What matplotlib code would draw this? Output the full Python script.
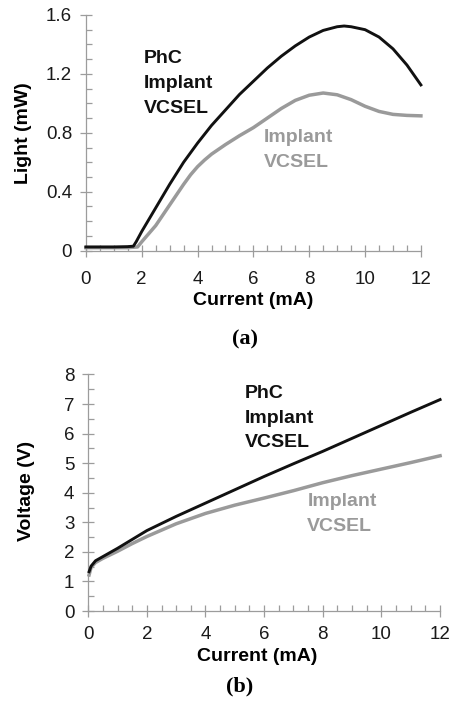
import matplotlib
matplotlib.use('Agg')
import matplotlib.pyplot as plt
from matplotlib.ticker import MultipleLocator

plt.rcParams['font.family'] = ['Liberation Sans', 'DejaVu Sans']

# ---- (a) light output vs current ----
cur_li_phc = [0, 0.5, 1.0, 1.5, 1.7, 1.8, 2.0, 2.5, 3.0, 3.5, 4.0, 4.5, 5.0, 5.5, 6.0,
              6.5, 7.0, 7.5, 8.0, 8.5, 9.0, 9.25, 9.5, 10.0, 10.5, 11.0, 11.5, 12.0]
light_phc = [0.025, 0.025, 0.025, 0.027, 0.03, 0.06, 0.13, 0.29, 0.45, 0.60, 0.73, 0.85, 0.955, 1.06, 1.15,
             1.24, 1.32, 1.39, 1.45, 1.495, 1.52, 1.525, 1.52, 1.50, 1.45, 1.37, 1.26, 1.125]

cur_li_imp = [0, 1.0, 1.5, 1.85, 2.0, 2.5, 3.0, 3.5, 3.75, 4.0, 4.25, 4.5, 5.0, 5.5, 6.0, 6.5, 7.0,
              7.5, 8.0, 8.5, 9.0, 9.5, 10.0, 10.5, 11.0, 11.5, 12.0]
light_imp = [0.02, 0.02, 0.02, 0.025, 0.06, 0.17, 0.31, 0.45, 0.515, 0.57, 0.615, 0.655, 0.72, 0.78, 0.835, 0.90, 0.965,
             1.02, 1.055, 1.07, 1.058, 1.025, 0.98, 0.945, 0.925, 0.918, 0.915]

# ---- (b) voltage vs current ----
cur_iv = [0.03, 0.1, 0.25, 0.5, 1.0, 1.5, 2.0, 3.0, 4.0, 5.0, 6.0, 7.0, 8.0, 9.0, 10.0, 11.0, 12.0]
volt_phc = [1.33, 1.52, 1.70, 1.84, 2.12, 2.42, 2.72, 3.20, 3.65, 4.10, 4.55, 4.98, 5.40, 5.84, 6.28, 6.72, 7.15]
volt_imp = [1.22, 1.48, 1.64, 1.78, 2.02, 2.28, 2.52, 2.95, 3.30, 3.58, 3.82, 4.07, 4.34, 4.58, 4.80, 5.02, 5.25]

BLACK = '#111111'
GRAY = '#9a9a9a'
AXC = '#9c9c9c'

fig = plt.figure(figsize=(4.57, 7.02), dpi=100)
ax1 = fig.add_axes([0.188, 0.643, 0.733, 0.3357])
ax2 = fig.add_axes([0.193, 0.1296, 0.770, 0.337])


def style(ax, ymax, ymajor, yminor, xpad, ypad):
    ax.set_xlim(0, 12)
    ax.set_ylim(0, ymax)
    ax.xaxis.set_major_locator(MultipleLocator(2))
    ax.xaxis.set_minor_locator(MultipleLocator(0.5))
    ax.yaxis.set_major_locator(MultipleLocator(ymajor))
    ax.yaxis.set_minor_locator(MultipleLocator(yminor))
    for s in ['top', 'right']:
        ax.spines[s].set_visible(False)
    for s in ['left', 'bottom']:
        ax.spines[s].set_color(AXC)
        ax.spines[s].set_linewidth(0.9)
    ax.tick_params(which='major', direction='inout', length=8, width=0.9, color=AXC,
                   labelsize=13.5, labelcolor='#1a1a1a')
    ax.tick_params(which='minor', direction='in', length=4, width=0.9, color=AXC)
    ax.tick_params(axis='x', which='major', pad=xpad)
    ax.tick_params(axis='y', which='major', pad=ypad)


style(ax1, 1.6, 0.4, 0.1, 11, 6)
ax1.yaxis.set_major_formatter(plt.FuncFormatter(lambda v, p: '0' if v == 0 else f'{v:.1f}'))
ax1.plot(cur_li_imp, light_imp, color=GRAY, lw=2.5, clip_on=False, zorder=3)
ax1.plot(cur_li_phc, light_phc, color=BLACK, lw=2.1, clip_on=False, zorder=4)
ax1.set_xlabel('Current (mA)', fontsize=14, fontweight='bold')
ax1.set_ylabel('Light (mW)', fontsize=14, fontweight='bold')
ax1.xaxis.set_label_coords(0.5, -0.175)
ax1.yaxis.set_label_coords(-0.16, 0.5)
ax1.text(2.08, 1.36, 'PhC\nImplant\nVCSEL', fontsize=14, fontweight='bold', color=BLACK,
         va='top', ha='left', linespacing=1.6)
ax1.text(6.38, 0.825, 'Implant\nVCSEL', fontsize=14, fontweight='bold', color=GRAY,
         va='top', ha='left', linespacing=1.6)

style(ax2, 8, 1, 0.5, 6.5, 6)
ax2.plot(cur_iv, volt_imp, color=GRAY, lw=2.5, clip_on=False, zorder=3)
ax2.plot(cur_iv, volt_phc, color=BLACK, lw=2.1, clip_on=False, zorder=4)
ax2.set_xlabel('Current (mA)', fontsize=14, fontweight='bold')
ax2.set_ylabel('Voltage (V)', fontsize=14, fontweight='bold')
ax2.xaxis.set_label_coords(0.479, -0.155)
ax2.yaxis.set_label_coords(-0.15, 0.506)
ax2.text(5.35, 7.65, 'PhC\nImplant\nVCSEL', fontsize=14, fontweight='bold', color=BLACK,
         va='top', ha='left', linespacing=1.6)
ax2.text(7.47, 3.98, 'Implant\nVCSEL', fontsize=14, fontweight='bold', color=GRAY,
         va='top', ha='left', linespacing=1.6)

fig.text(0.536, 0.517, '(a)', fontsize=16, fontweight='bold', family='Liberation Serif',
         ha='center', va='center')
fig.text(0.525, 0.022, '(b)', fontsize=16, fontweight='bold', family='Liberation Serif',
         ha='center', va='center')

fig.savefig('out.png', dpi=100)
